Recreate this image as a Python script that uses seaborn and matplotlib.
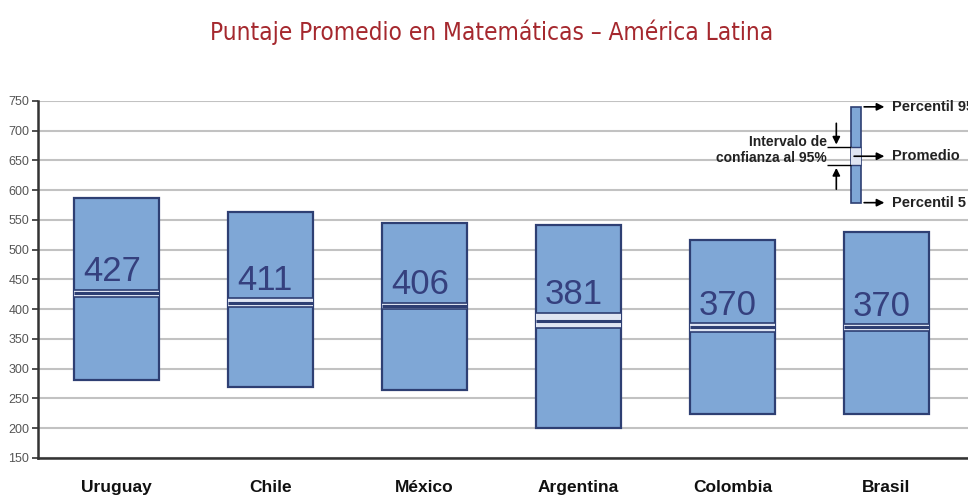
import seaborn as sns
import matplotlib.pyplot as plt
import numpy as np

countries = ['Uruguay', 'Chile', 'México', 'Argentina', 'Colombia', 'Brasil']
means = [427, 411, 406, 381, 370, 370]
p5 = [281, 269, 264, 201, 224, 224]
p95 = [586, 564, 545, 541, 516, 530]
ci_lo = [420, 403, 401, 368, 362, 364]
ci_hi = [433, 419, 411, 394, 377, 375]

# key (legend) values
key_p5, key_p95, key_mean = 579, 740, 657
key_ci = (642, 672)

BAR = '#7fa7d6'
EDGE = '#2e3f73'
LIGHT = '#dfe5f2'

sns.set_theme(style='white')
plt.rcParams['font.family'] = ['Liberation Sans', 'DejaVu Sans']

fig = plt.figure(figsize=(9.68, 4.97), dpi=100)
ax = fig.add_axes([0.039, 0.0785, 0.961, 0.7185])

heights = np.array(p95) - np.array(p5)
sns.barplot(x=countries, y=heights, bottom=p5, color=BAR, saturation=1,
            width=0.555, edgecolor=EDGE, linewidth=1.6, ax=ax, zorder=2)

hw = 0.555 / 2
for i in range(len(countries)):
    ax.fill_between([i - hw, i + hw], ci_lo[i], ci_hi[i], color=LIGHT, zorder=3, lw=0)
    ax.hlines([ci_lo[i], ci_hi[i]], i - hw, i + hw, color=EDGE, lw=1.2, zorder=4)
    ax.hlines(means[i], i - hw, i + hw, color=EDGE, lw=2.2, zorder=4)
    ax.text(i - hw + 0.06, ci_hi[i] + 14, str(means[i]), fontsize=25,
            color='#35407e', ha='left', va='baseline', zorder=5)

# key at top right
kx, kw = 4.805, 0.065
ax.bar(kx, key_p95 - key_p5, bottom=key_p5, width=kw, color=BAR,
       edgecolor=EDGE, linewidth=1.2, zorder=2)
ax.fill_between([kx - kw / 2, kx + kw / 2], key_ci[0], key_ci[1], color=LIGHT, zorder=3, lw=0)
ax.hlines(list(key_ci), kx - kw / 2, kx + kw / 2, color=EDGE, lw=1, zorder=4)
ax.hlines(list(key_ci), kx - 0.19, kx - kw / 2, color='black', lw=1, zorder=4)
arrow = dict(arrowstyle='-|>', color='black', lw=1.2, mutation_scale=11)
for yv, lab, x0 in [(key_p95, 'Percentil 95', kx + kw / 2),
                    (key_mean, 'Promedio', kx - kw / 2),
                    (key_p5, 'Percentil 5', kx + kw / 2)]:
    ax.annotate('', xy=(kx + 0.2, yv), xytext=(x0, yv), arrowprops=arrow,
                zorder=5, annotation_clip=False)
    ax.text(kx + 0.23, yv, lab, fontsize=10.5, fontweight='bold', color='#222222',
            ha='left', va='center', clip_on=False)
ax.annotate('', xy=(kx - 0.13, key_ci[1]), xytext=(kx - 0.13, key_ci[1] + 45),
            arrowprops=arrow, zorder=5)
ax.annotate('', xy=(kx - 0.13, key_ci[0]), xytext=(kx - 0.13, key_ci[0] - 45),
            arrowprops=arrow, zorder=5)
ax.text(kx - 0.19, np.mean(key_ci) + 10, 'Intervalo de\nconfianza al 95%', fontsize=10,
        fontweight='bold', color='#222222', ha='right', va='center', linespacing=1.2)

ax.set_ylim(150, 750)
ax.set_xlim(-0.51, 5.53)
ax.set_yticks(range(150, 751, 50))
ax.yaxis.grid(True, color='#c2c2c2', lw=1.5, zorder=0)
ax.set_axisbelow(True)
for s in ['top', 'right']:
    ax.spines[s].set_visible(False)
ax.spines['left'].set_color('#333333')
ax.spines['left'].set_linewidth(1.8)
ax.spines['bottom'].set_color('#333333')
ax.spines['bottom'].set_linewidth(1.8)
ax.tick_params(axis='y', left=True, length=4, width=1.2, color='#333333',
               labelsize=9, labelcolor='#555555', pad=2)
ax.tick_params(axis='x', bottom=False, labelsize=12.5, pad=10)
for t in ax.get_xticklabels():
    t.set_fontweight('bold')
    t.set_color('#111111')
ax.set_xlabel('')
ax.set_ylabel('')

fig.text(0.508, 0.935, 'Puntaje Promedio en Matemáticas – América Latina',
         ha='center', va='center', fontsize=17.5, color='#a5282e',
         family='DejaVu Sans', fontstretch='condensed')

fig.savefig('out.png', dpi=100, facecolor='white')
